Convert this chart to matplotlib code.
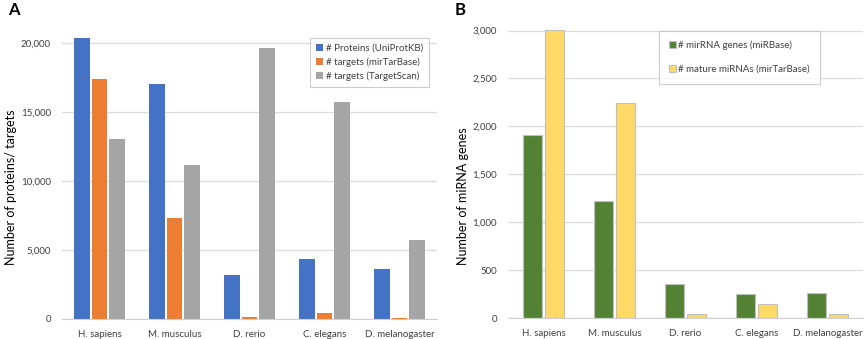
import matplotlib.pyplot as plt
import numpy as np
from matplotlib.ticker import FuncFormatter

species = ["H. sapiens", "M. musculus", "D. rerio", "C. elegans", "D. melanogaster"]

# panel A
proteins_uniprot = [20320, 17030, 3190, 4330, 3650]
targets_mirtarbase = [17350, 7300, 150, 410, 100]
targets_targetscan = [13000, 11180, 19640, 15720, 5750]

# panel B
mirna_genes = [1913, 1225, 350, 254, 256]
mature_mirnas = [3010, 2247, 42, 149, 42]

plt.rcParams["font.family"] = ["Lato", "DejaVu Sans"]

W, H = 865, 339
fig = plt.figure(figsize=(W / 100, H / 100), dpi=100)


def px_axes(x0, y0, x1, y1):
    return fig.add_axes([x0 / W, 1 - y1 / H, (x1 - x0) / W, (y1 - y0) / H])


def style(ax):
    for s in ["top", "right", "left"]:
        ax.spines[s].set_visible(False)
    ax.spines["bottom"].set_color("#D0D0D0")
    ax.yaxis.grid(True, color="#DCDCDC", linewidth=0.9)
    ax.set_axisbelow(True)
    ax.tick_params(length=0, labelsize=7, colors="#404040")
    ax.tick_params(axis="y", pad=8)
    ax.tick_params(axis="x", pad=8)
    ax.yaxis.set_major_formatter(FuncFormatter(lambda v, p: f"{int(v):,}"))


x = np.arange(len(species))

# ---- A ----
axA = px_axes(62, 29, 437, 319)
bw = 0.21
gap = 0.025
axA.bar(x - bw - gap, proteins_uniprot, bw, color="#4472C4", label="# Proteins (UniProtKB)")
axA.bar(x, targets_mirtarbase, bw, color="#ED7D31", label="# targets (mirTarBase)")
axA.bar(x + bw + gap, targets_targetscan, bw, color="#A5A5A5", label="# targets (TargetScan)")
axA.set_xlim(-0.5, 4.5)
axA.set_ylim(0, 21000)
axA.set_yticks([0, 5000, 10000, 15000, 20000])
axA.set_xticks(x)
axA.set_xticklabels(species)
style(axA)
fig.text(11 / W, 1 - 187 / H, "Number of proteins/ targets", fontsize=9, rotation=90,
         ha="center", va="center")
legA = axA.legend(loc="upper left", bbox_to_anchor=(310 / W, 1 - 38 / H), bbox_transform=fig.transFigure,
                  fontsize=7, frameon=True, fancybox=False, handlelength=0.7, handleheight=0.7,
                  handletextpad=0.3, labelspacing=0.45, borderpad=0.6, borderaxespad=0)
legA.get_frame().set_edgecolor("#BFBFBF")
legA.get_frame().set_linewidth(0.8)
for t in legA.get_texts():
    t.set_color("#404040")

# ---- B ----
axB = px_axes(508, 21, 863, 318)
bw2 = 0.27
gap2 = 0.05
axB.bar(x - (bw2 + gap2) / 2, mirna_genes, bw2, color="#548235", edgecolor="#BFBFBF", linewidth=0.8,
        label="# mirRNA genes (miRBase)")
axB.bar(x + (bw2 + gap2) / 2, mature_mirnas, bw2, color="#FFD966", edgecolor="#BFBFBF", linewidth=0.8,
        label="# mature miRNAs (mirTarBase)")
axB.set_xlim(-0.5, 4.5)
axB.set_ylim(0, 3100)
axB.set_yticks([0, 500, 1000, 1500, 2000, 2500, 3000])
axB.set_xticks(x)
axB.set_xticklabels(species)
style(axB)
fig.text(463 / W, 1 - 196 / H, "Number of miRNA genes", fontsize=9, rotation=90,
         ha="center", va="center")
legB = axB.legend(loc="upper left", bbox_to_anchor=(659 / W, 1 - 31 / H), bbox_transform=fig.transFigure,
                  fontsize=7, frameon=True, fancybox=False, handlelength=0.7, handleheight=0.7,
                  handletextpad=0.3, labelspacing=1.5, borderpad=1.0, borderaxespad=0)
legB.get_frame().set_edgecolor("#BFBFBF")
legB.get_frame().set_linewidth(0.8)
for t in legB.get_texts():
    t.set_color("#404040")

fig.text(8 / W, 1 - 10 / H, "A", fontsize=12, fontweight="bold", va="center", ha="left")
fig.text(455 / W, 1 - 10 / H, "B", fontsize=12, fontweight="bold", va="center", ha="left")

fig.savefig("out.png", dpi=100)
